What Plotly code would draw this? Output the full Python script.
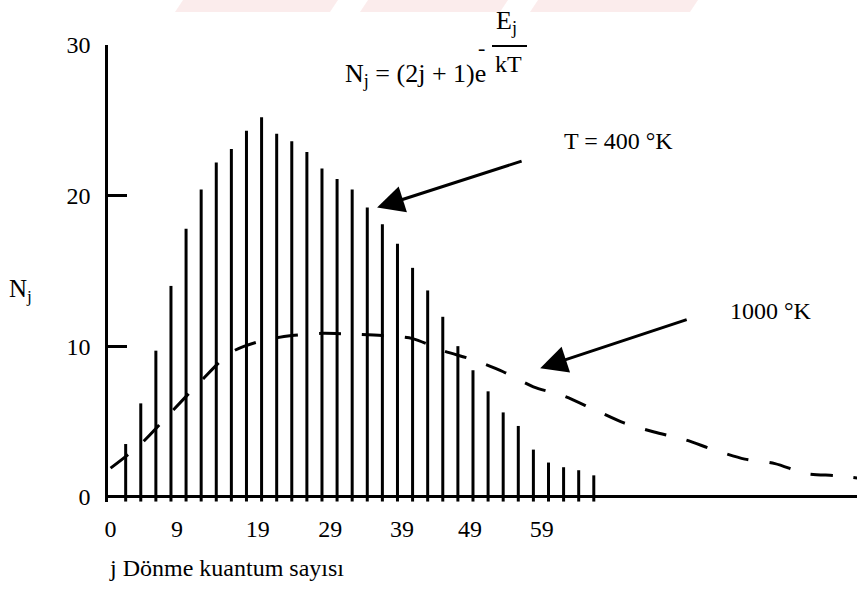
import plotly.graph_objects as go

# ---- data ----
j_bars = list(range(2, 66, 2))  # rotational quantum number positions of the T=400 K bars
n_400 = [3.5, 6.2, 9.7, 14.0, 17.8, 20.4, 22.2, 23.1, 24.3, 25.2, 24.1, 23.6,
         22.9, 21.8, 21.1, 20.4, 19.2, 18.1, 16.8, 15.2, 13.7, 11.95, 10.0, 8.4,
         7.0, 5.6, 4.7, 3.13, 2.27, 1.96, 1.76, 1.42]
j_curve = [0, 4, 8, 12, 16, 20, 24, 28, 32, 36, 40, 44, 48, 52, 56, 60, 64,
           68, 72, 76, 80, 84, 88, 92, 96, 99]
n_1000 = [1.9, 3.5, 5.6, 7.7, 9.6, 10.35, 10.7, 10.85, 10.8, 10.7, 10.5, 9.7,
          9.1, 8.3, 7.3, 6.7, 5.8, 4.9, 4.3, 3.8, 3.1, 2.5, 2.2, 1.55, 1.4, 1.24]
x_tick_labels = ["0", "9", "19", "29", "39", "49", "59"]
x_tick_pos = [0, 8.8, 19.5, 29.1, 38.6, 47.6, 57.1]
y_ticks = [0, 10, 20, 30]

FONT = "Liberation Serif"
W, H = 857, 590
L, R, T, B = 108, 0, 45, 88
PW, PH = W - L - R, H - T - B

def px(x):
    return (x - L) / PW

def py(y):
    return (H - B - y) / PH

# bar segments built from the data arrays
bx, by = [], []
for j, v in zip(j_bars, n_400):
    bx += [j, j, None]
    by += [-0.32, v, None]

fig = go.Figure()
fig.add_trace(go.Scatter(x=bx, y=by, mode="lines",
                         line=dict(color="black", width=3), hoverinfo="skip",
                         showlegend=False))
fig.add_trace(go.Scatter(x=j_curve, y=n_1000, mode="lines",
                         line=dict(color="black", width=3, dash="22px,21px",
                                   shape="spline", smoothing=0.8),
                         showlegend=False))

fig.update_layout(
    width=W, height=H,
    margin=dict(l=L, r=R, t=T, b=B, pad=0),
    paper_bgcolor="white", plot_bgcolor="white",
    font=dict(family=FONT, color="black", size=22),
    showlegend=False,
    xaxis=dict(range=[-0.34, 98.86], showgrid=False, zeroline=False,
               showline=False, tickmode="array", tickvals=x_tick_pos,
               ticktext=x_tick_labels, ticks="", tickfont=dict(size=24),
               ticklabelstandoff=10),
    yaxis=dict(range=[-0.35, 30], showgrid=False, zeroline=True,
               zerolinecolor="black", zerolinewidth=3,
               showline=True, linecolor="black", linewidth=2.5,
               tickmode="array", tickvals=y_ticks, ticks="inside",
               ticklen=19, tickwidth=2.5, tickcolor="black",
               tickfont=dict(size=24), ticklabelstandoff=10),
)

ann = []
# formula
ann.append(dict(xref="paper", yref="paper", x=px(488), y=py(75), text="N<sub>j</sub> = (2j + 1)e",
                showarrow=False, font=dict(size=26), xanchor="right", yanchor="middle"))
ann.append(dict(xref="paper", yref="paper", x=px(481), y=py(47), text="-",
                showarrow=False, font=dict(size=22), xanchor="center", yanchor="middle"))
ann.append(dict(xref="paper", yref="paper", x=px(507), y=py(22), text="E<sub>j</sub>",
                showarrow=False, font=dict(size=26), xanchor="center", yanchor="middle"))
ann.append(dict(xref="paper", yref="paper", x=px(508), y=py(64), text="kT",
                showarrow=False, font=dict(size=24), xanchor="center", yanchor="middle"))
# labels
ann.append(dict(xref="paper", yref="paper", x=px(618), y=py(141), text="T = 400 °K",
                showarrow=False, font=dict(size=24), xanchor="center", yanchor="middle"))
ann.append(dict(xref="paper", yref="paper", x=px(771), y=py(311), text="1000 °K",
                showarrow=False, font=dict(size=24), xanchor="center", yanchor="middle"))
ann.append(dict(xref="paper", yref="paper", x=px(20), y=py(290), text="N<sub>j</sub>",
                showarrow=False, font=dict(size=25), xanchor="center", yanchor="middle"))
ann.append(dict(xref="paper", yref="paper", x=px(107), y=py(568), text="j Dönme kuantum sayısı",
                showarrow=False, font=dict(size=24), xanchor="left", yanchor="middle"))
# arrows
ann.append(dict(x=35.3, y=19.2, xref="x", yref="y", ax=146, ay=-47, axref="pixel", ayref="pixel",
                text="", showarrow=True, arrowhead=2, arrowsize=1.8, arrowwidth=3,
                arrowcolor="black"))
ann.append(dict(x=56.9, y=8.54, xref="x", yref="y", ax=148, ay=-49, axref="pixel", ayref="pixel",
                text="", showarrow=True, arrowhead=2, arrowsize=1.8, arrowwidth=3,
                arrowcolor="black"))

# faint watermark band at the top of the scanned page
wm = "rgba(235,150,150,0.18)"
shapes = [dict(type="line", xref="paper", yref="paper",
               x0=px(492), x1=px(527), y0=py(46), y1=py(46),
               line=dict(color="black", width=2))]
for x0, x1 in [(175, 330), (360, 500), (530, 690)]:
    shapes.append(dict(type="path", xref="paper", yref="paper",
                       path=f"M {px(x0+8)},{py(0)} L {px(x1+8)},{py(0)} L {px(x1)},{py(12)} L {px(x0)},{py(12)} Z",
                       fillcolor=wm, line=dict(width=0), layer="below"))

fig.update_layout(annotations=ann, shapes=shapes)

fig.write_html("out.html")
